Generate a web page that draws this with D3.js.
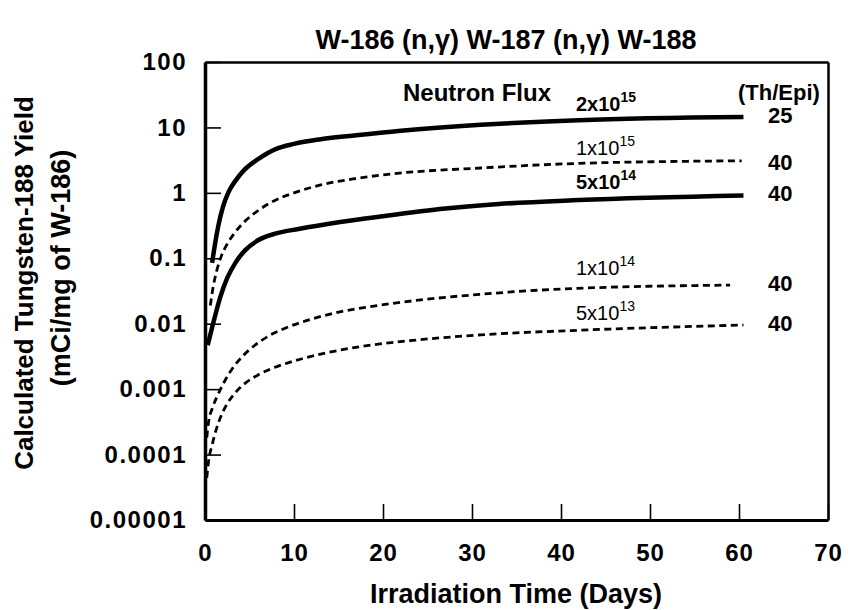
<!DOCTYPE html>
<html>
<head>
<meta charset="utf-8">
<script src="https://cdn.jsdelivr.net/npm/d3@7"></script>
<style>
  html, body { margin: 0; padding: 0; background: #fff; }
  svg { display: block; font-family: "Liberation Sans", Arial, Helvetica, sans-serif; }
</style>
</head>
<body>
<svg id="chart" width="851" height="610"></svg>
<script>
// ---------- data ----------
const chartTitle = "W-186 (n,\u03b3) W-187 (n,\u03b3) W-188";
const yTitleLines = ["Calculated Tungsten-188 Yield", "(mCi/mg of W-186)"];
const xTitle = "Irradiation Time (Days)";

const xTicks = [0, 10, 20, 30, 40, 50, 60, 70];
const xTickLabels = ["0", "10", "20", "30", "40", "50", "60", "70"];
const yTicks = [100, 10, 1, 0.1, 0.01, 0.001, 0.0001, 0.00001];
const yTickLabels = ["100", "10", "1", "0.1", "0.01", "0.001", "0.0001", "0.00001"];

// flux 2x10^15, Th/Epi 25 (solid)
const days2e15 = [0.8, 1.1, 1.5, 2, 2.6, 3.5, 4.5, 6, 8, 10, 13, 17, 22, 31, 42, 60.5];
const yield2e15 = [0.085, 0.158, 0.316, 0.6, 1.0, 1.58, 2.3, 3.3, 4.7, 5.6, 6.6, 7.6, 8.9, 10.96, 12.9, 14.4];
// flux 1x10^15, Th/Epi 40 (dashed)
const days1e15 = [0.6, 0.9, 1.3, 1.8, 2.5, 3.4, 4.6, 6, 7.8, 10, 13, 17, 21, 31, 42, 60.3];
const yield1e15 = [0.019, 0.0355, 0.063, 0.105, 0.166, 0.251, 0.38, 0.54, 0.76, 1.0, 1.32, 1.66, 1.95, 2.4, 2.82, 3.09];
// flux 5x10^14, Th/Epi 40 (solid)
const days5e14 = [0.3, 1, 1.7, 2.5, 3.5, 4.5, 6, 8, 10.5, 15, 20, 27, 33, 42, 60.5];
const yield5e14 = [0.0047, 0.0112, 0.0251, 0.050, 0.089, 0.132, 0.19, 0.24, 0.28, 0.355, 0.44, 0.575, 0.676, 0.776, 0.912];
// flux 1x10^14, Th/Epi 40 (dashed)
const days1e14 = [0.2, 0.4, 0.8, 1.4, 2.2, 3.1, 4.2, 5.5, 7, 8.8, 11, 14.5, 18.5, 24, 31, 40, 59];
const yield1e14 = [0.000182, 0.000316, 0.000501, 0.000794, 0.00132, 0.00209, 0.00316, 0.00457, 0.00631, 0.00832, 0.0107, 0.0145, 0.0182, 0.0229, 0.0282, 0.0339, 0.0389];
// flux 5x10^13, Th/Epi 40 (dashed)
const days5e13 = [0.2, 0.4, 0.8, 1.3, 1.9, 2.6, 3.5, 4.6, 6, 7.8, 10, 13.5, 17.5, 23, 31, 42, 60.5];
const yield5e13 = [0.000044, 0.000079, 0.000141, 0.000251, 0.000417, 0.000631, 0.000912, 0.00126, 0.00166, 0.00214, 0.00269, 0.00355, 0.00447, 0.0055, 0.00676, 0.00794, 0.00955];

const fluxMantissa = ["2x10", "1x10", "5x10", "1x10", "5x10"];
const fluxExponent = ["15", "15", "14", "14", "13"];
const thEpiRatio = ["25", "40", "40", "40", "40"];
const lineKind = ["solid", "dashed", "solid", "dashed", "dashed"];

// ---------- layout ----------
const svg = d3.select("#chart");
const x = d3.scaleLinear().domain([0, 70]).range([205, 828]);
const y = d3.scaleLog().domain([1e-5, 100]).range([520, 62]);

const series = [
  { days: days2e15, vals: yield2e15 },
  { days: days1e15, vals: yield1e15 },
  { days: days5e14, vals: yield5e14 },
  { days: days1e14, vals: yield1e14 },
  { days: days5e13, vals: yield5e13 }
].map((s, i) => ({
  pts: s.days.map((d, j) => [d, s.vals[j]]),
  kind: lineKind[i], mant: fluxMantissa[i], exp: fluxExponent[i], ratio: thEpiRatio[i]
}));

// title
svg.append("text")
  .attr("x", 506).attr("y", 49)
  .attr("text-anchor", "middle")
  .attr("font-size", 27).attr("font-weight", "bold")
  .text(chartTitle);

// axes
const xAxis = d3.axisBottom(x).tickValues(xTicks)
  .tickFormat((d, i) => xTickLabels[i])
  .tickSizeInner(-16).tickSizeOuter(0).tickPadding(24);
const gx = svg.append("g").attr("transform", "translate(0,520)").call(xAxis);
gx.select(".domain").attr("stroke-width", 3);
gx.selectAll(".tick line").attr("stroke-width", 1.6);
gx.selectAll(".tick text").attr("font-size", 24).attr("font-weight", "bold")
  .attr("letter-spacing", 1)
  .attr("font-family", "Liberation Sans, Arial, sans-serif").attr("fill", "#000");

const yAxis = d3.axisLeft(y).tickValues(yTicks)
  .tickFormat((d, i) => yTickLabels[i])
  .tickSizeInner(-16).tickSizeOuter(0).tickPadding(18);
const gy = svg.append("g").attr("transform", "translate(205,0)").call(yAxis);
gy.select(".domain").attr("stroke-width", 3.5);
gy.selectAll(".tick line").attr("stroke-width", 1.6);
gy.selectAll(".tick text").attr("font-size", 24).attr("font-weight", "bold")
  .attr("letter-spacing", 1.5)
  .attr("font-family", "Liberation Sans, Arial, sans-serif").attr("fill", "#000");

// frame top & right
const gt = svg.append("g").attr("transform", "translate(0,62)")
  .call(d3.axisTop(x).tickValues([]).tickSizeOuter(0));
gt.select(".domain").attr("stroke-width", 2.5);
const gr = svg.append("g").attr("transform", "translate(828,0)")
  .call(d3.axisRight(y).tickValues([]).tickSizeOuter(0));
gr.select(".domain").attr("stroke-width", 2.5);

// axis titles
svg.append("text")
  .attr("x", 516).attr("y", 603)
  .attr("text-anchor", "middle")
  .attr("font-size", 27).attr("font-weight", "bold")
  .text(xTitle);

const yTitleX = [33, 70];
const yTitleY = [283, 268];
const yTitleSize = [26, 27];
yTitleLines.forEach((t, i) => {
  svg.append("text")
    .attr("transform", `translate(${yTitleX[i]},${yTitleY[i]}) rotate(-90)`)
    .attr("text-anchor", "middle")
    .attr("font-size", yTitleSize[i]).attr("font-weight", "bold")
    .text(t);
});

// curves
const line = d3.line()
  .x(d => x(d[0])).y(d => y(d[1]))
  .curve(d3.curveMonotoneX);

svg.append("g").selectAll("path").data(series).join("path")
  .attr("d", d => line(d.pts))
  .attr("fill", "none")
  .attr("stroke", "#000")
  .attr("stroke-width", d => d.kind === "solid" ? 4.5 : 2.8)
  .attr("stroke-dasharray", d => d.kind === "solid" ? null : "7,4.5");

// annotations
svg.append("text")
  .attr("x", 403).attr("y", 101)
  .attr("font-size", 24).attr("font-weight", "bold")
  .text("Neutron Flux");
svg.append("text")
  .attr("x", 738).attr("y", 100)
  .attr("font-size", 22).attr("font-weight", "bold")
  .text("(Th/Epi)");

const labelY = [111, 155, 189, 275, 320];
const ratioY = [123, 170, 201, 291, 331];
series.forEach((s, i) => {
  const t = svg.append("text")
    .attr("x", 576).attr("y", labelY[i])
    .attr("font-size", 20)
    .attr("font-weight", s.kind === "solid" ? "bold" : "normal");
  t.append("tspan").text(s.mant);
  t.append("tspan").attr("dy", -9).attr("font-size", 14).text(s.exp);
  svg.append("text")
    .attr("x", 768).attr("y", ratioY[i])
    .attr("font-size", 22).attr("font-weight", "bold")
    .text(s.ratio);
});
</script>
</body>
</html>
